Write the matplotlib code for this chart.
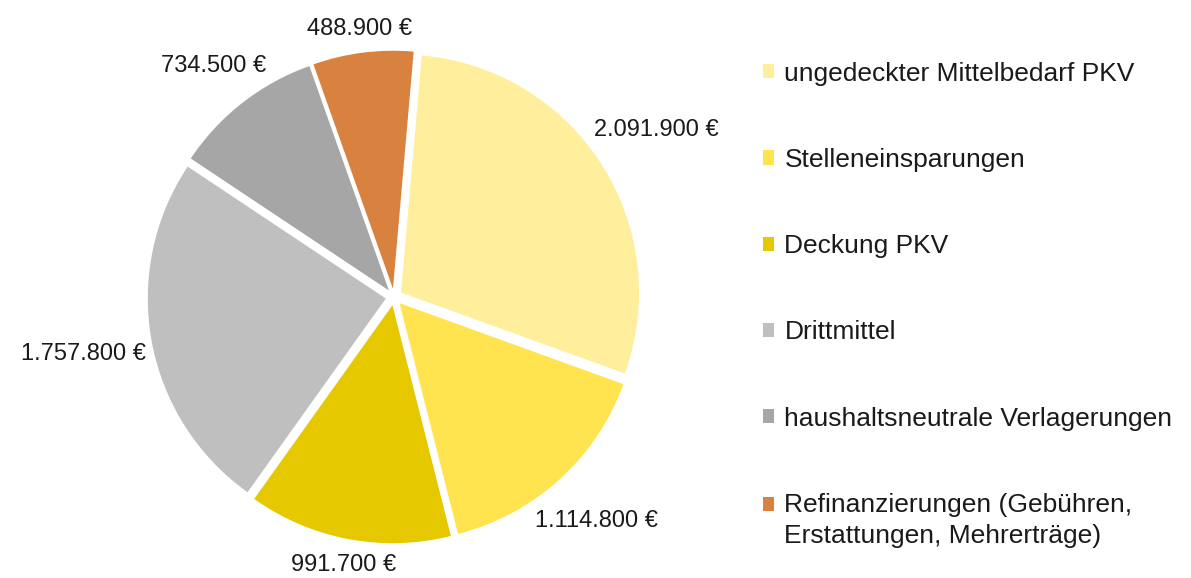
import numpy as np
import matplotlib

matplotlib.use("Agg")
import matplotlib.pyplot as plt
from matplotlib.patches import Patch

plt.rcParams["font.family"] = ["Liberation Sans", "DejaVu Sans"]

# ---------------------------------------------------------------------------
# Data
# ---------------------------------------------------------------------------
categories = [
    "ungedeckter Mittelbedarf PKV",
    "Stelleneinsparungen",
    "Deckung PKV",
    "Drittmittel",
    "haushaltsneutrale Verlagerungen",
    "Refinanzierungen (Gebühren,\nErstattungen, Mehrerträge)",
]
amounts = [2091900, 1114800, 991700, 1757800, 734500, 488900]
colors = ["#FFEF9D", "#FFE34F", "#E5C800", "#BFBFBF", "#A6A6A6", "#D9823F"]


def euro(v):
    return f"{v:,.0f}".replace(",", ".") + " €"


labels = [euro(v) for v in amounts]

# ---------------------------------------------------------------------------
# Plot
# ---------------------------------------------------------------------------
W, H = 1191, 578
fig = plt.figure(figsize=(W / 100, H / 100), dpi=100)

# pie axes in pixel terms: centre (394, 297), 1 data unit = 238 px
cx, cy, unit, half = 394, 297, 238, 1.4
ax = fig.add_axes([(cx - half * unit) / W, (H - cy - half * unit) / H,
                   2 * half * unit / W, 2 * half * unit / H])

wedges, texts = ax.pie(
    amounts,
    labels=labels,
    colors=colors,
    startangle=85,
    counterclock=False,
    explode=[0.035] * len(amounts),
    labeldistance=1.06,
    wedgeprops={"linewidth": 0},
    textprops={"fontsize": 17, "color": "#1a1a1a"},
)

# pie() resets the limits, so fix them afterwards
ax.set_xlim(-half, half)
ax.set_ylim(-half, half)
ax.set_aspect("equal")
ax.axis("off")

# push each label outwards so that its box sits just outside the pie
fig.canvas.draw()
renderer = fig.canvas.get_renderer()
for w, t in zip(wedges, texts):
    ang = np.deg2rad((w.theta1 + w.theta2) / 2)
    bb = t.get_window_extent(renderer)
    half_w = bb.width / 2 / unit
    half_h = bb.height / 2 / unit
    r = 1.06 + half_w * abs(np.cos(ang)) + half_h * abs(np.sin(ang))
    t.set_position((r * np.cos(ang), r * np.sin(ang)))
    t.set_horizontalalignment("center")
    t.set_verticalalignment("center")

handles = [Patch(facecolor=c, edgecolor="none") for c in colors]
leg = fig.legend(
    handles,
    categories,
    loc="upper left",
    bbox_to_anchor=(752 / W, 1 - 51 / H),
    frameon=False,
    fontsize=19,
    labelspacing=2.36,
    handlelength=0.45,
    handleheight=0.45,
    handletextpad=0.38,
    borderaxespad=0,
    labelcolor="#1a1a1a",
)
for t in leg.get_texts():
    t.set_linespacing(1.35)

# the two-line entry keeps its marker level with the first line
last = leg.legend_handles[-1]
last.set_y(last.get_y() + 12)

fig.savefig("out.png", dpi=100)
